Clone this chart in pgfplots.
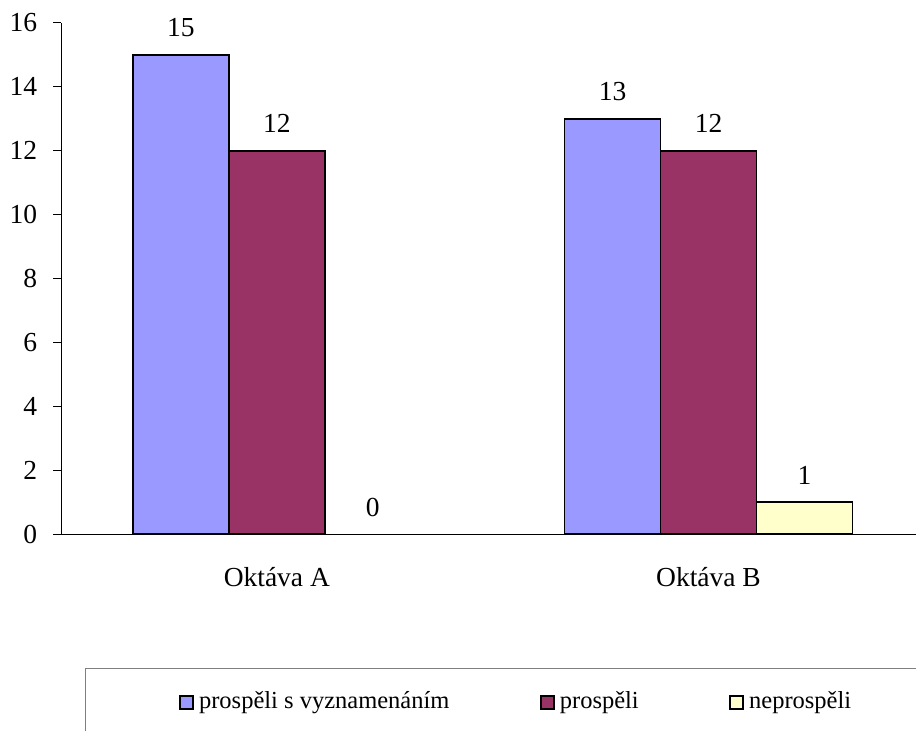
\documentclass[border=0pt]{standalone}
\usepackage{pgfplots}
\pgfplotsset{compat=1.18}
\usepackage{fontspec}
\setmainfont{Liberation Serif}
\definecolor{cA}{HTML}{9999FF}
\definecolor{cB}{HTML}{993366}
\definecolor{cC}{HTML}{FFFFCC}
\definecolor{lgray}{HTML}{808080}
\pgfplotsset{
  mylegend/.style={legend image code/.code={%
    \draw[##1, draw=black, line width=2.2bp] (1bp,-6.5bp) rectangle (14bp,6.5bp);
    \path (17bp,0bp);}},
}
\begin{document}
\fontsize{27.5bp}{33bp}\selectfont
\begin{tikzpicture}
\path[use as bounding box] (0,0) rectangle (916bp,731bp);
\draw[lgray, line width=1bp] (1000bp,62bp) -- (85.7bp,62bp) -- (85.7bp,-20bp);
\begin{axis}[
  at={(61bp,197bp)}, anchor=south west,
  scale only axis, width=855bp, height=511bp,
  xmin=-0.5, xmax=1.4806, ymin=0, ymax=16,
  ybar=0pt, bar width=0.2224,
  axis x line*=bottom, axis y line*=left,
  axis line style={-, line width=1bp, black},
  xtick={0,1}, xticklabels={Oktáva A, Oktáva B},
  xtick style={draw=none},
  ytick={0,2,...,16}, tick align=outside,
  ytick style={line width=1bp, black},
  major tick length=7.7bp,
  yticklabel style={anchor=east, inner sep=0pt, xshift=-16bp},
  xticklabel style={anchor=base, inner sep=0pt, yshift=-45bp},
  /pgf/number format/assume math mode=true,
  nodes near coords,
  every node near coord/.append style={anchor=base, inner sep=0pt, yshift=18bp, black},
  legend columns=3,
  legend style={at={(axis description cs:0.138,-0.3297)}, anchor=west,
    draw=none, fill=none, inner sep=0pt,
    font=\fontsize{24.5bp}{29bp}\selectfont,
    /tikz/every even column/.append style={column sep=88.5bp},
    cells={anchor=west, inner xsep=0pt}},
  clip=false,
]
\addplot[fill=cA, draw=black, line width=1.6bp, mylegend, bar shift=-0.2224] coordinates {(0,15) (1,13)};
\addplot[fill=cB, draw=black, line width=1.6bp, mylegend, bar shift=0] coordinates {(0,12) (1,12)};
\addplot[fill=cC, draw=black, line width=1.6bp, mylegend, bar shift=0.2224] coordinates {(1,1)};
\addplot[draw=none, fill=none, bar shift=0.2224, forget plot] coordinates {(0,0)};
\legend{prospěli s vyznamenáním, prospěli, neprospěli}
\end{axis}
\end{tikzpicture}
\end{document}
